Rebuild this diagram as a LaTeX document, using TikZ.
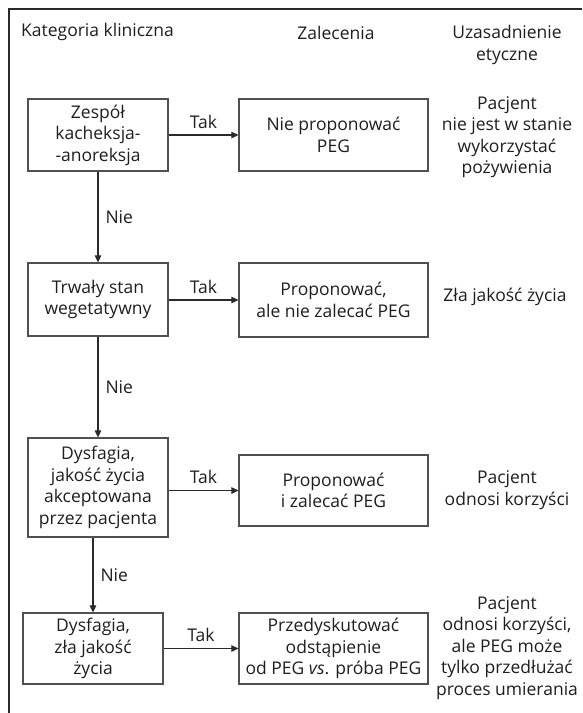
\documentclass[tikz,border=0pt]{standalone}
\usepackage{fontspec}
\setmainfont{Open Sans}
\usetikzlibrary{arrows.meta}
\definecolor{txt}{HTML}{1E1E1E}
\definecolor{boxc}{HTML}{505050}
\definecolor{linec}{HTML}{2A2A2A}
\tikzset{
  every node/.style={text=txt, font=\fontsize{17.5}{21.5}\selectfont, align=center},
  catbox/.style={draw=boxc, line width=1.2pt, inner sep=0pt, minimum width=140pt},
  recbox/.style={draw=boxc, line width=1.2pt, inner sep=0pt, minimum width=189pt},
  plain/.style={inner sep=0pt},
  arr/.style={draw=linec, line width=1.1pt, -{Triangle[length=7pt,width=6.5pt]}},
  lbl/.style={inner sep=0pt}
}
\begin{document}
\begin{tikzpicture}[x=1pt,y=-1pt]
\useasboundingbox (0,0) rectangle (582,713);
% frame
\draw[linec, line width=1.4pt] (9,713) -- (9,9) -- (582,9);
% headers
\node[plain, anchor=west] (h1) at (21,32) {Kategoria kliniczna};
\node[plain] (h2) at (336,33) {Zalecenia};
\node[plain] (h3) at (507,45) {Uzasadnienie\\etyczne};
% category boxes
\node[catbox, minimum height=72pt] (b1) at (98,135) {Zespół\\kacheksja-\\-anoreksja};
\node[catbox, minimum height=73pt] (b2) at (98,299.5) {Trwały stan\\wegetatywny};
\node[catbox, minimum height=99pt] (b3) at (98,487.5) {Dysfagia,\\jakość życia\\akceptowana\\przez pacjenta};
\node[catbox, minimum height=71pt] (b4) at (93,648.5) {Dysfagia,\\zła jakość\\życia};
% recommendation boxes
\node[recbox, minimum height=72pt] (r1) at (333.5,135) {Nie proponować\\PEG};
\node[recbox, minimum height=74pt] (r2) at (333.5,300) {Proponować,\\ale nie zalecać PEG};
\node[recbox, minimum height=71pt] (r3) at (333.5,490.5) {Proponować\\i zalecać PEG};
\node[recbox, minimum height=71pt] (r4) at (333.5,648.5) {Przedyskutować\\odstąpienie\\od PEG \textit{vs}. próba PEG};
% ethics
\node[plain] (e1) at (507,137) {Pacjent\\nie jest w stanie\\wykorzystać\\pożywienia};
\node[plain] (e2) at (505,297) {Zła jakość życia};
\node[plain] (e3) at (507,490) {Pacjent\\odnosi korzyści};
\node[plain] (e4) at (507,648) {Pacjent\\odnosi korzyści,\\ale PEG może\\tylko przedłużać\\proces umierania};
% horizontal arrows
\draw[arr] (b1.east) -- node[lbl, above=6pt] {Tak} (r1.west);
\draw[arr] (b2.east |- r2.west) -- node[lbl, above=6pt] {Tak} (r2.west);
\draw[arr] (b3.east |- r3.west) -- node[lbl, above=6pt] {Tak} (r3.west);
\draw[arr] (b4.east) -- node[lbl, above=6pt] {Tak} (r4.west);
% vertical arrows
\draw[arr] (b1.south) -- node[lbl, right=7pt] {Nie} (b2.north);
\draw[arr] (b2.south) -- node[lbl, right=7pt] {Nie} (b3.north);
\draw[arr] (b4.north |- b3.south) -- node[lbl, right=7pt] {Nie} (b4.north);
\end{tikzpicture}
\end{document}
